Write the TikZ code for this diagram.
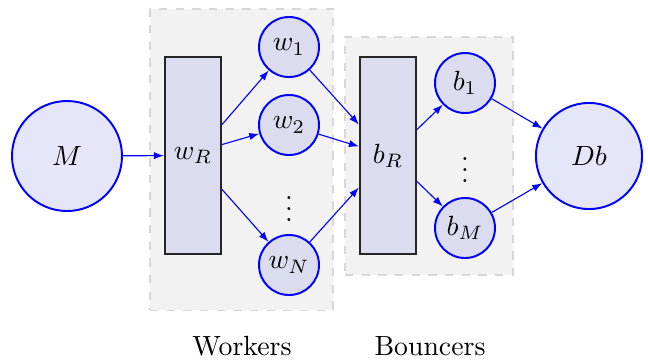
\documentclass[tikz,border=0pt]{standalone}
\usetikzlibrary{calc,arrows.meta}
\definecolor{bgfill}{RGB}{242,242,242}
\definecolor{bgline}{RGB}{215,215,215}
\definecolor{boxfill}{RGB}{220,220,240}
\definecolor{endfill}{RGB}{230,230,250}
\tikzset{
  grp/.style={draw=bgline, dashed, fill=bgfill, line width=0.4pt, inner sep=0pt},
  router/.style={draw=black!85, fill=boxfill, line width=0.75pt, minimum width=20.2pt, minimum height=70.9pt, inner sep=0pt},
  unit/.style={circle, draw=blue, fill=boxfill, line width=0.7pt, minimum size=21.6pt, inner sep=0pt},
  endpt/.style={circle, draw=blue, fill=endfill, line width=0.7pt, minimum size=39.6pt, inner sep=0pt},
  conn/.style={draw=blue, line width=0.4pt, -{Latex[length=3.6pt,width=2.6pt]}},
  lbl/.style={font=\normalsize}
}
\begin{document}
\begin{tikzpicture}[x=0.36pt,y=-0.36pt]
\useasboundingbox (0,0) rectangle (648,360);
\node[grp, minimum width=65.9pt, minimum height=108.4pt] (gw) at (241.5,159.5) {};
\node[grp, minimum width=60.5pt, minimum height=85.7pt] (gb) at (429,156) {};
\node[endpt] (M) at (67,156) {$M$};
\node[router] (wR) at (193,155.5) {$w_R$};
\node[unit] (w1) at (289,47) {$w_1$};
\node[unit] (w2) at (289,125) {$w_2$};
\node (wd) at (289,201) {$\vdots$};
\node[unit] (wN) at (289,265) {$w_N$};
\node[router] (bR) at (388,155.5) {$b_R$};
\node[unit] (b1) at (465,83) {$b_1$};
\node (bd) at (465,162) {$\vdots$};
\node[unit] (bM) at (465,228) {$b_M$};
\node[endpt, minimum size=38.2pt] (Db) at (589,156) {$Db$};
\node[lbl] (lw) at (242,346) {Workers};
\node[lbl] (lb) at (430,346) {Bouncers};
\coordinate (wo1) at ($(wR.east)+(0,-31)$);
\coordinate (wo2) at ($(wR.east)+(0,-11)$);
\coordinate (wo3) at ($(wR.east)+(0,34)$);
\coordinate (bi1) at ($(bR.west)+(0,-31)$);
\coordinate (bi2) at ($(bR.west)+(0,-9)$);
\coordinate (bi3) at ($(bR.west)+(0,32)$);
\coordinate (bo1) at ($(bR.east)+(0,-26)$);
\coordinate (bo2) at ($(bR.east)+(0,26)$);
\draw[conn] (M) -- (wR);
\draw[conn] (wo1) -- (w1);
\draw[conn] (wo2) -- (w2);
\draw[conn] (wo3) -- (wN);
\draw[conn] (w1) -- (bi1);
\draw[conn] (w2) -- (bi2);
\draw[conn] (wN) -- (bi3);
\draw[conn] (bo1) -- (b1);
\draw[conn] (bo2) -- (bM);
\draw[conn] (b1) -- (Db);
\draw[conn] (bM) -- (Db);
\end{tikzpicture}
\end{document}
